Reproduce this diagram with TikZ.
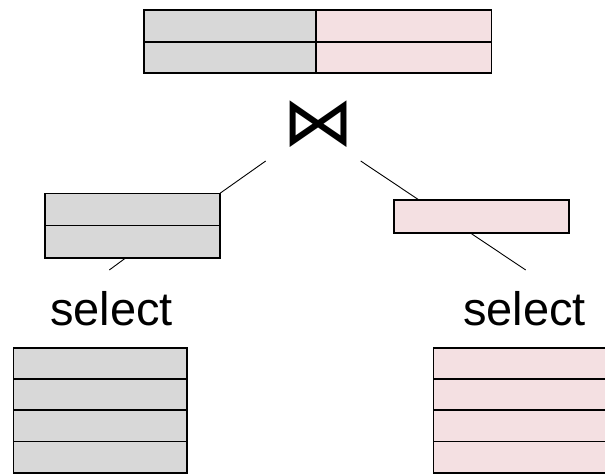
\documentclass[tikz,border=0pt]{standalone}
\usepackage{fontspec}
\setmainfont{Liberation Sans}
\newfontfamily\symfont{DejaVu Sans}
\usetikzlibrary{calc}
\definecolor{graycell}{RGB}{216,216,216}
\definecolor{pinkcell}{RGB}{244,224,226}

\begin{document}
\begin{tikzpicture}[x=1pt,y=-1pt,
  tablebox/.style={draw=black, line width=1.6pt, inner sep=0pt, outer sep=0pt,
    rectangle, minimum width=#1},
  rowline/.style={draw=black, line width=1.6pt},
  conn/.style={draw=black, line width=0.9pt},
  label/.style={inner sep=0pt, anchor=base, font=\fontsize{47}{56}\selectfont}
]
\useasboundingbox (0,0) rectangle (605,474);

% result of the join: two columns, two rows
\node[tablebox=172pt, minimum height=63pt, fill=graycell] (gt) at (230,41.75) {};
\node[tablebox=175.5pt, minimum height=63pt, fill=pinkcell] (pt) at (403.75,41.75) {};
\draw[rowline] (gt.west) -- (pt.east);

% join operator
\node[inner sep=0pt, xscale=1.06, font=\symfont\fontsize{68}{80}\selectfont] (j) at (318.5,124) {⋈};
\coordinate (jl) at (265.7,161);
\coordinate (jr) at (360.7,161);

% selected inputs
\node[tablebox=175pt, minimum height=64.4pt, fill=graycell] (lm) at (132.5,225.5) {};
\draw[rowline] (lm.west) -- (lm.east);
\node[tablebox=175pt, minimum height=32.7pt, fill=pinkcell] (rm) at (481.5,216.35) {};

% select operators
\node[label] (sell) at (111.5,325.7) {select};
\node[label] (selr) at (524.5,325.3) {select};
\coordinate (sl) at (109.3,270);
\coordinate (sr) at (525.7,270);

% base tables, four rows each
\node[tablebox=173.4pt, minimum height=125pt, fill=graycell] (lb) at (100,410.2) {};
\node[tablebox=173.4pt, minimum height=125pt, fill=pinkcell] (rb) at (520,410.2) {};
\foreach \t in {lb,rb}{
  \foreach \f in {0.25,0.5,0.75}{
    \draw[rowline] ($(\t.north west)!\f!(\t.south west)$) -- ($(\t.north east)!\f!(\t.south east)$);
  }
}

% connectors
\draw[conn] (jl) -- (lm.north east);
\draw[conn] (jr) -- ($(rm.north west)+(25,0)$);
\draw[conn] ($(lm.south west)+(81,0)$) -- (sl);
\draw[conn] ($(rm.south west)+(76,0)$) -- (sr);
\end{tikzpicture}
\end{document}
